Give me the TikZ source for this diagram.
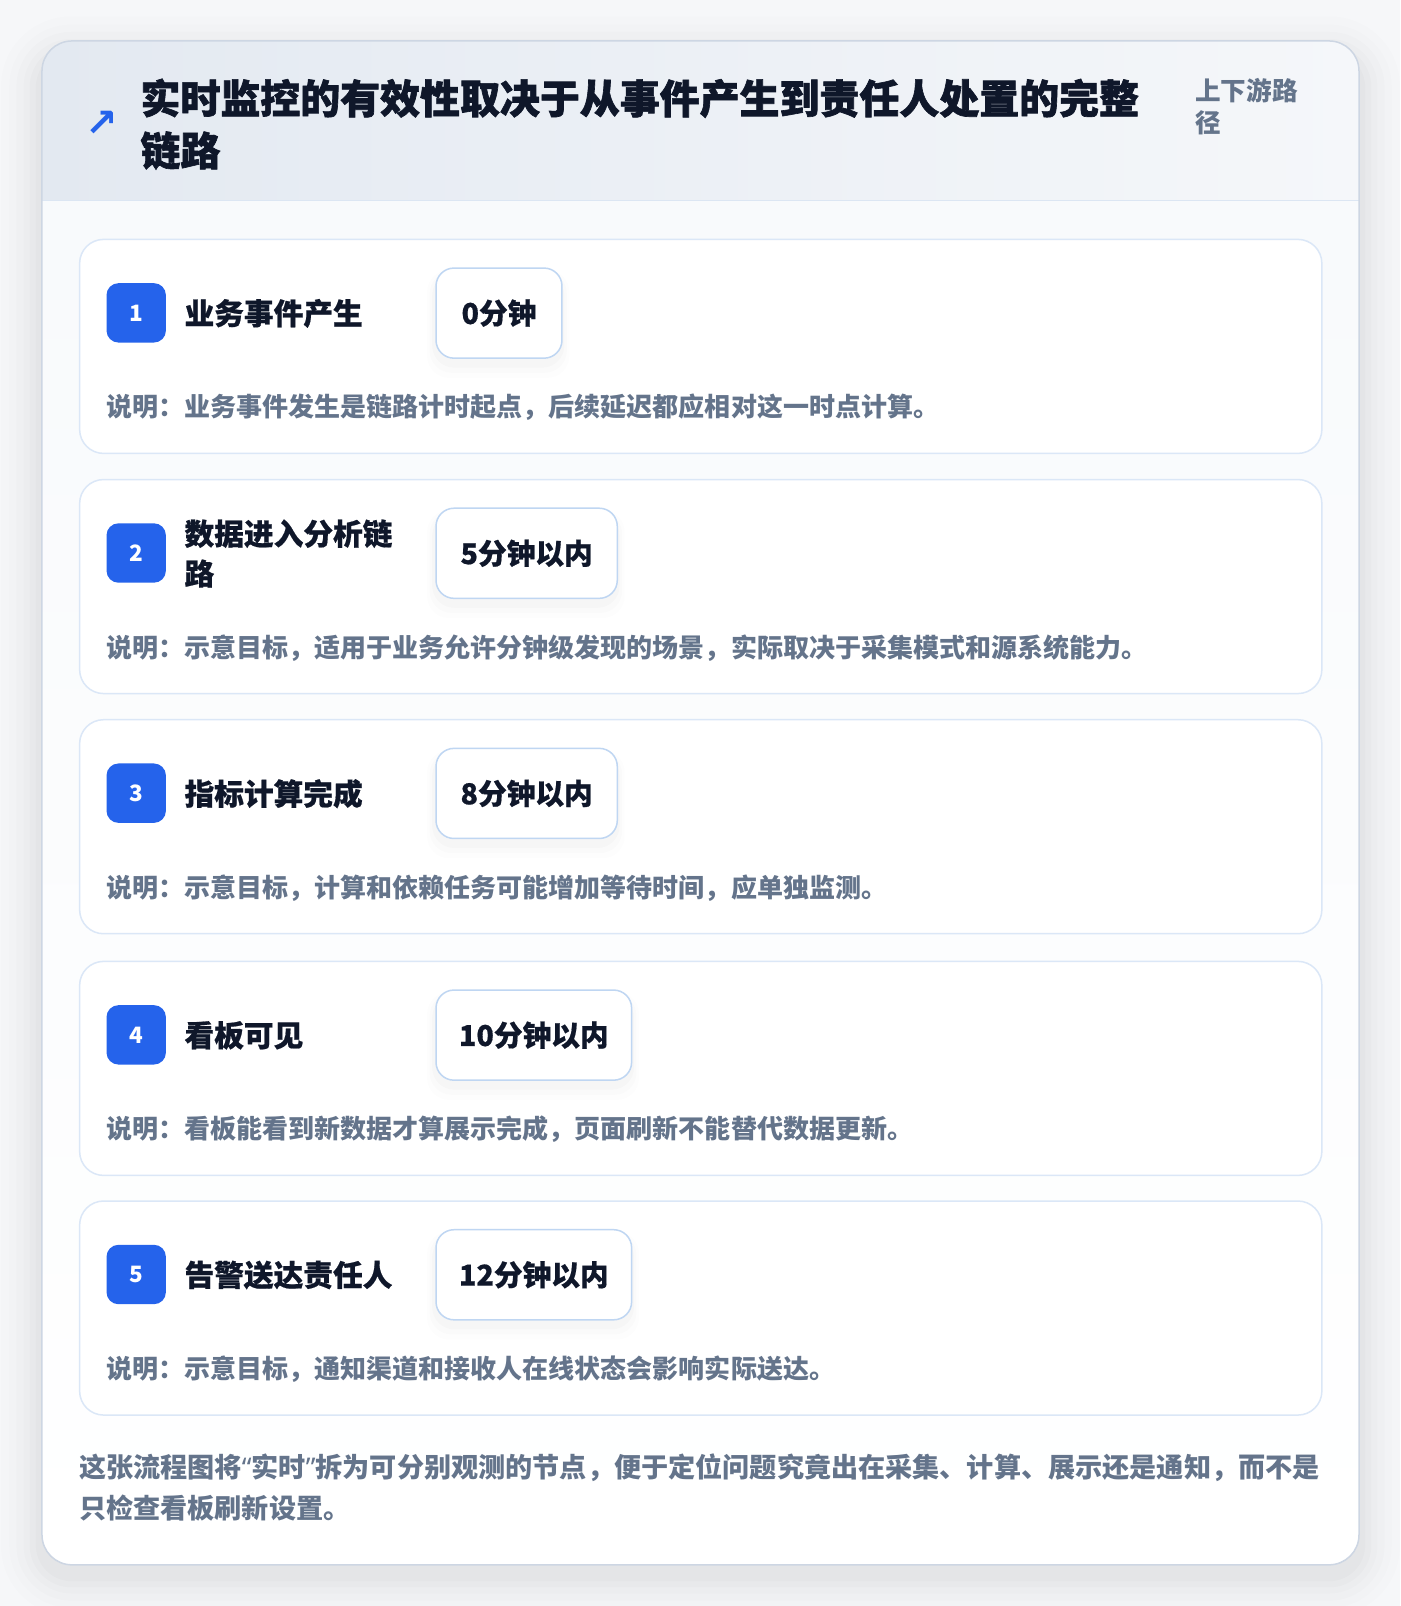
\documentclass[tikz,border=0pt]{standalone}
\usepackage{fontspec}
\newfontfamily\cjk{Noto Sans CJK SC}
\newfontfamily\cjkheavy{Noto Sans CJK SC}[FakeBold=1.6]
\newfontfamily\cjkmid{Noto Sans CJK SC}[FakeBold=0.6]
\newfontfamily\symf{DejaVu Sans}
\newfontfamily\latf{Noto Sans}
\definecolor{pagebg}{HTML}{F6F7F9}
\definecolor{outerline}{HTML}{CDD6E3}
\definecolor{headL}{HTML}{E3E9F1}
\definecolor{headR}{HTML}{F5F7FA}
\definecolor{headline}{HTML}{DCE6F3}
\definecolor{bodytop}{HTML}{F8FAFC}
\definecolor{stepline}{HTML}{DBE7F7}
\definecolor{badgeblue}{HTML}{2563EB}
\definecolor{pillline}{HTML}{BFD6F2}
\definecolor{ink}{HTML}{0F172A}
\definecolor{muted}{HTML}{64748B}
\newcommand\fs[1]{\fontsize{#1}{#1}\selectfont}
\tikzset{
  cardbox/.style={draw=stepline, line width=1.5pt, fill=white, rounded corners=24pt, minimum width=1213pt, minimum height=209pt, anchor=north west, inner sep=0pt},
  badgebox/.style={fill=badgeblue, rounded corners=12pt, minimum width=58pt, minimum height=58pt, inner sep=0pt, text=white, font=\cjk\bfseries\fs{22}},
  titletext/.style={anchor=west, inner sep=0pt, text=ink, font=\cjkmid\bfseries\fs{29}, align=left},
  pillbox/.style={draw=pillline, line width=1.5pt, fill=white, rounded corners=18pt, minimum height=88pt, anchor=north west, inner sep=0pt, text=ink, font=\cjkmid\bfseries\fs{28}},
  desctext/.style={anchor=west, inner sep=0pt, text=muted, font=\cjk\bfseries\fs{25.4}},
  foottext/.style={anchor=west, inner sep=0pt, text=muted, font=\cjk\bfseries\fs{26.5}},
}
\newcommand\stepcard[6]{%
  \node[cardbox] (card#1) at (77,#2) {};
  \node[badgebox] (badge#1) at (133,{#2+72.5}) {#1};
  \node[titletext] (title#1) at (180,{#2+73}) {#3};
  \foreach \k/\o in {16/0.008,11/0.012,6/0.016}{
    \fill[black, opacity=\o, rounded corners=22pt] ({425-\k/2},{#2+28+8-\k/3}) rectangle ({425+#4+\k/2},{#2+116+4+\k});
  }
  \node[pillbox, minimum width=#4pt] (pill#1) at (425,{#2+28}) {#5};
  \node[desctext] (desc#1) at (104,{#2+165}) {#6};
}
\begin{document}
\begin{tikzpicture}[x=1pt,y=-1pt,scale=1.0241,every node/.append style={transform shape}]
\useasboundingbox (0,0) rectangle (1367.05,1568.2);
\fill[pagebg] (0,0) rectangle (1367.05,1568.2);
% outer shadow
\foreach \k/\o in {40/0.006,32/0.008,25/0.010,18/0.012,12/0.014,6/0.016}{
  \fill[black, opacity=\o, rounded corners={30+\k}] ({41-\k},{40-\k+16}) rectangle ({1327+\k},{1528+\k+10});
}
\begin{scope}
  \clip[rounded corners=30pt] (41,40) rectangle (1327,1528);
  \fill[white] (41,40) rectangle (1327,1528);
  \fill[left color=headL, right color=headR] (41,40) rectangle (1327,196);
  \fill[top color=bodytop, bottom color=white] (41,197) rectangle (1327,1528);
\end{scope}
\draw[headline, line width=1.5pt] (41,196) -- (1327,196);
\draw[outerline, line width=1.5pt, rounded corners=30pt] (41,40) rectangle (1327,1528);
% header
\node[text=badgeblue, font=\symf\bfseries\fs{38}, inner sep=0pt] (icon) at (99,121) {↗};
\node[anchor=west, inner sep=0pt, text=ink, font=\cjkheavy\bfseries\fs{39}] (head1) at (137,96) {实时监控的有效性取决于从事件产生到责任人处置的完整};
\node[anchor=west, inner sep=0pt, text=ink, font=\cjkheavy\bfseries\fs{39}] (head2) at (137,147) {链路};
\node[anchor=west, inner sep=0pt, text=muted, font=\cjk\bfseries\fs{25}] (tag1) at (1167,88) {上下游路};
\node[anchor=west, inner sep=0pt, text=muted, font=\cjk\bfseries\fs{25}] (tag2) at (1167,120) {径};
% steps
\stepcard{1}{233}{业务事件产生}{123}{0分钟}{说明：业务事件发生是链路计时起点，后续延迟都应相对这一时点计算。}
\stepcard{2}{467.5}{数据进入分析链\\[10pt]路}{177}{5分钟以内}{说明：示意目标，适用于业务允许分钟级发现的场景，实际取决于采集模式和源系统能力。}
\stepcard{3}{702}{指标计算完成}{177}{8分钟以内}{说明：示意目标，计算和依赖任务可能增加等待时间，应单独监测。}
\stepcard{4}{938}{看板可见}{191}{10分钟以内}{说明：看板能看到新数据才算展示完成，页面刷新不能替代数据更新。}
\stepcard{5}{1172}{告警送达责任人}{191}{12分钟以内}{说明：示意目标，通知渠道和接收人在线状态会影响实际送达。}
% footer
\node[foottext] (foot1) at (77,1433) {这张流程图将{\latf\bfseries “}实时{\latf\bfseries ”}拆为可分别观测的节点，便于定位问题究竟出在采集、计算、展示还是通知，而不是};
\node[foottext] (foot2) at (77,1473) {只检查看板刷新设置。};
\end{tikzpicture}
\end{document}
